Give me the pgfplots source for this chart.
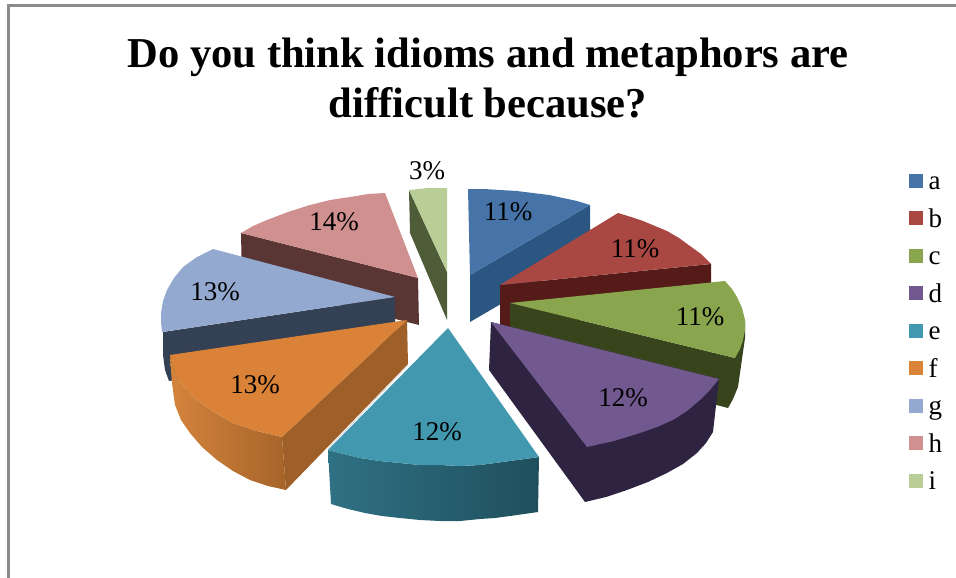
\documentclass[border=0pt]{standalone}
\usepackage{pgfplots}
\pgfplotsset{compat=1.18}
\usepackage{fontspec}
\setmainfont{Liberation Serif}
% colours of the slices: top face, inner wall
\definecolor{aT}{HTML}{4674A8}\definecolor{aW}{HTML}{2C5682}
\definecolor{bT}{HTML}{A94743}\definecolor{bW}{HTML}{551B19}
\definecolor{cT}{HTML}{89A54E}\definecolor{cW}{HTML}{38441C}
\definecolor{dT}{HTML}{71588F}\definecolor{dW}{HTML}{2E2340}
\definecolor{eT}{HTML}{4198AF}\definecolor{eL}{HTML}{2F7184}\definecolor{eR}{HTML}{1F4F5C}
\definecolor{fT}{HTML}{D98238}\definecolor{fL}{HTML}{D4843C}\definecolor{fR}{HTML}{A6642A}\definecolor{fW}{HTML}{9E5F29}
\definecolor{gT}{HTML}{93A9CF}\definecolor{gW}{HTML}{344155}
\definecolor{hT}{HTML}{CF908F}\definecolor{hW}{HTML}{593534}
\definecolor{iT}{HTML}{B9CD96}\definecolor{iW}{HTML}{4E5C38}
\definecolor{frameGray}{HTML}{8C8C8C}
\pgfplotsset{face/.style={fill=#1,draw=none,no markers,forget plot}}
\newcommand{\pct}[3]{\node[font=\fontsize{27}{27}\selectfont] at (axis cs:#1,#2) {#3\%};}
\newcommand{\legendentry}[2]{\node[font=\fontsize{27}{27}\selectfont,anchor=base west] at (axis cs:925,#1) {#2};}
\begin{document}
\begin{tikzpicture}
\path[use as bounding box] (0,0) rectangle (956pt,578pt);
\begin{axis}[
  at={(0,0)},anchor=south west,
  width=956pt,height=578pt,scale only axis,
  xmin=0,xmax=956,ymin=0,ymax=578,y dir=reverse,
  hide axis,clip=false]
% outer frame
\addplot[frameGray,line width=3pt,no markers,forget plot] coordinates {(8.5,578)(8.5,6)(956,6)};

% slice a
\addplot[face=aW] coordinates {(470,275)(590,205)(590,252)(470,322)} -- cycle;
\addplot[face=aT] coordinates {(468,189)(484,189)(500,190)(517,191)(533,193)(549,195)(563,198)(577,201)(590,205)(470,275)} -- cycle;
% slice i
\addplot[face=iW] coordinates {(409,190)(447,272)(447,320)(410,233)} -- cycle;
\addplot[face=iT] coordinates {(409,190)(428,188)(447,188)(447,272)} -- cycle;
% slice h
\addplot[face=hW] coordinates {(241,233)(418,278)(419,325)(242,280)} -- cycle;
\addplot[face=hT] coordinates {(241,233)(253,226)(267,220)(288,212)(310,205)(330,200)(350,197)(368,194)(385,193)(418,278)} -- cycle;
% slice b
\addplot[face=bW] coordinates {(500,285)(711,264)(711,304)(500,330)} -- cycle;
\addplot[face=bT] coordinates {(500,285)(618,213)(631,217)(643,221)(655,226)(667,231)(679,238)(690,246)(701,254)(711,264)} -- cycle;
% slice g
\addplot[face=gW] coordinates {(395,297)(163,332)(163,355)(165,370)(169,381)(395,345)} -- cycle;
\addplot[face=gT] coordinates {(395,297)(213,249)(197,257)(183,267)(174,278)(167,290)(163,301)(161,313)(161,322)(162,332)} -- cycle;
% slice c
\addplot[face=cW] coordinates {(510,303)(735,358)(745,322)(745,338)(743,352)(741,366)(738,387)(733,399)(728,408)(510,351)} -- cycle;
\addplot[face=cT] coordinates {(510,303)(725,281)(732,289)(737,297)(742,308)(745,320)(745,330)(743,340)(740,349)(735,358)} -- cycle;
% slice f
\addplot[face=fW] coordinates {(407,320)(282,437)(286,490)(408,364)} -- cycle;
\addplot[draw=none,forget plot,no markers,shading=axis,left color=fL,right color=fR]
  coordinates {(170,355)(172,365)(175,373)(183,386)(193,397)(212,411)(233,423)(257,431)(282,437)(286,490)(268,486)(250,480)(233,471)(217,460)(202,447)(190,433)(181,420)(175,405)(172,383)(171,370)} -- cycle;
\addplot[face=fT] coordinates {(407,320)(170,355)(172,365)(175,373)(183,386)(193,397)(212,411)(233,423)(257,431)(282,437)} -- cycle;
% slice d
\addplot[face=dW] coordinates {(491,322)(719,379)(713,432)(706,443)(697,453)(683,464)(667,473)(648,482)(627,490)(606,497)(585,502)(489,370)} -- cycle;
\addplot[face=dT] coordinates {(491,322)(719,379)(710,390)(700,400)(687,411)(673,420)(657,427)(640,433)(614,441)(587,447)} -- cycle;
% slice e
\addplot[draw=none,forget plot,no markers,shading=axis,left color=eL,right color=eR]
  coordinates {(328,450)(344,454)(360,458)(380,461)(400,463)(420,465)(440,465)(460,466)(480,465)(495,463)(510,461)(525,459)(539,457)(538,512)(524,514)(510,516)(495,518)(480,519)(460,521)(440,521)(420,520)(400,518)(382,516)(365,513)(348,509)(331,504)} -- cycle;
\addplot[face=eT] coordinates {(448,328)(539,457)(525,459)(510,461)(495,463)(480,465)(460,466)(440,465)(420,465)(400,463)(380,461)(360,458)(344,454)(328,450)} -- cycle;
\addplot[white!85!black,line width=0.9pt,no markers,forget plot] coordinates {(408,365)(328,449)};

% percentages
\pct{508}{212}{11}
\pct{635}{249}{11}
\pct{700}{317}{11}
\pct{623}{398}{12}
\pct{437}{432}{12}
\pct{255}{385}{13}
\pct{215}{292}{13}
\pct{334}{222}{14}
\pct{427}{171}{3}

% legend keys
\addplot[face=aT] coordinates {(909,174)(923,174)(923,188)(909,188)} -- cycle;
\addplot[face=bT] coordinates {(909,211)(923,211)(923,225)(909,225)} -- cycle;
\addplot[face=cT] coordinates {(909,249)(923,249)(923,263)(909,263)} -- cycle;
\addplot[face=dT] coordinates {(909,286)(923,286)(923,300)(909,300)} -- cycle;
\addplot[face=eT] coordinates {(909,324)(923,324)(923,338)(909,338)} -- cycle;
\addplot[face=fT] coordinates {(909,361)(923,361)(923,375)(909,375)} -- cycle;
\addplot[face=gT] coordinates {(909,399)(923,399)(923,413)(909,413)} -- cycle;
\addplot[face=hT] coordinates {(909,436)(923,436)(923,450)(909,450)} -- cycle;
\addplot[face=iT] coordinates {(909,474)(923,474)(923,488)(909,488)} -- cycle;
\legendentry{189}{a}
\legendentry{227}{b}
\legendentry{264}{c}
\legendentry{302}{d}
\legendentry{339}{e}
\legendentry{377}{f}
\legendentry{414}{g}
\legendentry{452}{h}
\legendentry{489}{i}

% title
\node[font=\fontsize{42.6}{50}\selectfont\bfseries,align=center] at (axis cs:488,78)
  {Do you think idioms and metaphors are\\difficult because?};
\end{axis}
\end{tikzpicture}
\end{document}
